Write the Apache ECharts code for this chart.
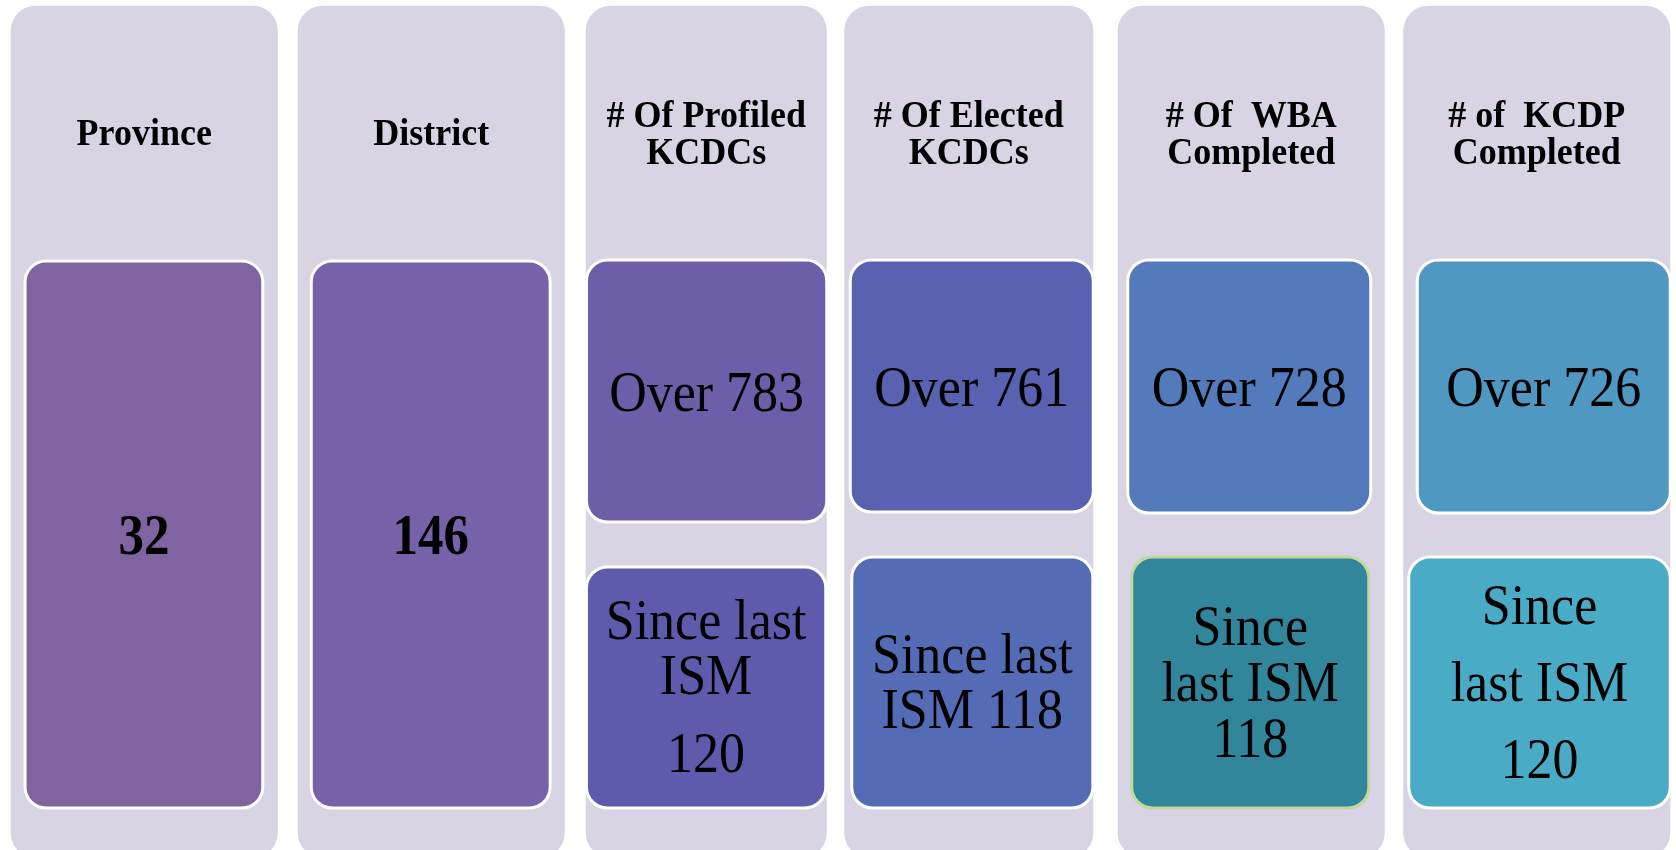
<!DOCTYPE html>
<html>
<head>
<meta charset="utf-8">
<script src="https://cdn.jsdelivr.net/npm/echarts@6/dist/echarts.min.js"></script>
<style>
html,body{margin:0;padding:0;background:#ffffff;}
#chart{width:1676px;height:850px;}
</style>
</head>
<body>
<div id="chart"></div>
<script>
// ---------------- DATA ----------------
const categories = ['Province', 'District', '# Of Profiled KCDCs', '# Of Elected KCDCs', '# Of  WBA Completed', '# of  KCDP Completed'];
const headerLines = [['Province'], ['District'], ['# Of Profiled', 'KCDCs'], ['# Of Elected', 'KCDCs'], ['# Of  WBA', 'Completed'], ['# of  KCDP', 'Completed']];
const totals = [32, 146, 783, 761, 728, 726];
const totalIsMinimum = [false, false, true, true, true, true]; // shown as "Over N"
const sinceLastISM = [null, null, 120, 118, 118, 120];

// ---------------- LAYOUT / STYLE (not data) ----------------
const FONT = '"Liberation Serif", "Times New Roman", serif';
const TEXT_DY = 4.5;
const colShift = [0, 8.5, 5, -11, -7, 0];
const colWidth = [267, 267, 241, 249, 267, 267];
const BG = '#d8d4e3';
// boxes: insets from column edges, top/bottom on the layout axis
const boxes = [
  [{il: 14.3, ir: 15, t: 261, b: 808, fill: '#8064a2'}],
  [{il: 13.5, ir: 14.6, t: 261, b: 808, fill: '#7761a8'}],
  [{il: 0.7, ir: 0, t: 260, b: 522, fill: '#6c5ea9'}, {il: 0.7, ir: 1, t: 567, b: 808, fill: '#5f5bac'}],
  [{il: 6, ir: 0, t: 260, b: 512, fill: '#5862b0'}, {il: 7.5, ir: 0.4, t: 557, b: 808, fill: '#546cb5'}],
  [{il: 10, ir: 14, t: 260, b: 513, fill: '#537bbb'}, {il: 14, ir: 16, t: 557, b: 808, fill: '#31869c', stroke: '#c3d69b'}],
  [{il: 14, ir: 0, t: 260, b: 513, fill: '#4f98c1'}, {il: 5.5, ir: 0, t: 557, b: 808, fill: '#4aabc6'}]
];
// how the "since last ISM" text wraps, '#' is replaced by the value
const sinceWrap = [null, null, ['Since last', 'ISM', '#'], ['Since last', 'ISM #'], ['Since', 'last ISM', '#'], ['Since', 'last ISM', '#']];
const sinceGaps = [null, null, [55, 78], [55], [56, 56], [77, 77]];

function textEl(x, y, txt, size, bold, sy) {
  return {
    type: 'text',
    x: x, y: y + TEXT_DY,
    scaleX: 1, scaleY: sy,
    style: {
      text: txt, x: 0, y: 0,
      fill: '#000000',
      fontSize: size,
      fontFamily: FONT,
      fontWeight: bold ? 'bold' : 'normal',
      align: 'center',
      verticalAlign: 'middle'
    }
  };
}

function renderItem(params, api) {
  const i = api.value(0);
  const cx = api.coord([i, 0])[0] + colShift[i];
  const Y = v => api.coord([i, v])[1];
  const w = colWidth[i];
  const x0 = cx - w / 2;
  const children = [];
  // column background
  children.push({
    type: 'rect',
    shape: {x: x0, y: Y(5.7), width: w, height: Y(858) - Y(5.7), r: 25},
    style: {fill: BG}
  });
  // header
  const hl = headerLines[i];
  const hGap = 37.5;
  const hMid = Y(131);
  hl.forEach((t, k) => {
    children.push(textEl(cx, hMid + (k - (hl.length - 1) / 2) * hGap, t, 36, true, 1.07));
  });
  // boxes
  const bx = boxes[i];
  bx.forEach((b, k) => {
    const bl = x0 + b.il, br = x0 + w - b.ir;
    children.push({
      type: 'rect',
      shape: {x: bl, y: Y(b.t), width: br - bl, height: Y(b.b) - Y(b.t), r: 21},
      style: {fill: b.fill, stroke: b.stroke || '#ffffff', lineWidth: 3}
    });
    const bcx = (bl + br) / 2;
    const bcy = (Y(b.t) + Y(b.b)) / 2;
    if (k === 0) {
      const label = (totalIsMinimum[i] ? 'Over ' : '') + totals[i];
      if (totalIsMinimum[i]) {
        children.push(textEl(bcx, bcy, label, 52, false, 1.1));
      } else {
        children.push(textEl(bcx, bcy, label, 51, true, 1.12));
      }
    } else if (sinceLastISM[i] != null) {
      const lines = sinceWrap[i].map(s => s.replace('#', String(sinceLastISM[i])));
      const gaps = sinceGaps[i];
      const offs = [0];
      gaps.forEach(g => offs.push(offs[offs.length - 1] + g));
      const span = offs[offs.length - 1];
      lines.forEach((t, j) => {
        children.push(textEl(bcx, bcy - 1.5 - span / 2 + offs[j], t, 52, false, 1.1));
      });
    }
  });
  return {type: 'group', children: children};
}

const chart = echarts.init(document.getElementById('chart'), null, {renderer: 'canvas'});
chart.setOption({
  animation: false,
  backgroundColor: '#ffffff',
  grid: {left: 5, top: 0, width: 1674, height: 850, containLabel: false},
  xAxis: {type: 'category', data: categories, show: false, boundaryGap: true},
  yAxis: {type: 'value', min: 0, max: 850, inverse: true, show: false},
  series: [{
    type: 'custom',
    renderItem: renderItem,
    clip: false,
    data: categories.map((c, i) => [i, totals[i]]),
    encode: {x: 0}
  }]
});
</script>
</body>
</html>
